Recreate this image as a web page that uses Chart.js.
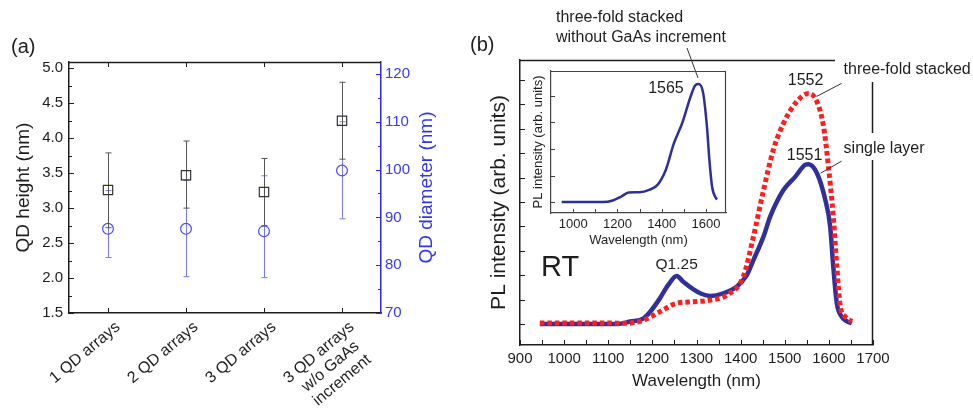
<!DOCTYPE html>
<html><head><meta charset="utf-8">
<script src="https://cdn.jsdelivr.net/npm/chart.js@4.4.1/dist/chart.umd.min.js"></script>
<style>
html,body{margin:0;padding:0;background:#fff;width:973px;height:408px;overflow:hidden;position:relative;}
canvas{position:absolute;}
#ca{left:0;top:0;}
#cb{left:460px;top:0;}
#ci{left:525px;top:66px;}
</style></head><body>
<canvas id="ca" width="460" height="408"></canvas>
<canvas id="cb" width="513" height="408"></canvas>
<canvas id="ci" width="210" height="185"></canvas>
<script>
// ---------- Panel (a) data ----------
const sampleLabels = ['1 QD arrays', '2 QD arrays', '3 QD arrays', ['3 QD arrays', 'w/o GaAs', 'increment']];
const qdHeight = [3.26, 3.47, 3.23, 4.25];
const qdHeightHigh = [3.79, 3.96, 3.71, 4.80];
const qdHeightLow = [2.72, 3.00, 2.75, 3.70];
const qdDiameter = [87.6, 87.6, 87.1, 99.8];
const qdDiameterHigh = [95.6, 97.7, 98.7, 110.0];
const qdDiameterLow = [81.6, 77.6, 77.4, 89.7];
const heightTicks = [1.5, 2.0, 2.5, 3.0, 3.5, 4.0, 4.5, 5.0];
const diameterTicks = [70, 80, 90, 100, 110, 120];

// ---------- Panel (b) data ----------
const singleWl  = [945, 1000, 1050, 1100, 1120, 1150, 1180, 1195, 1217, 1236, 1255, 1270, 1293, 1312, 1331, 1361, 1391, 1414, 1429, 1452, 1467, 1497, 1524, 1546, 1554, 1573, 1592, 1603, 1610, 1618, 1629, 1640, 1652];
const singleInt = [0, 0, 0, 0, 0, 0.1, 0.23, 0.5, 1.05, 1.6, 1.97, 1.73, 1.42, 1.23, 1.15, 1.26, 1.53, 2.0, 2.62, 3.59, 4.4, 5.49, 6.04, 6.52, 6.55, 6.18, 5.08, 3.99, 2.35, 0.85, 0.3, 0.12, 0.03];
const stackedWl  = [945, 1000, 1100, 1142, 1180, 1217, 1255, 1293, 1331, 1369, 1406, 1429, 1452, 1474, 1497, 1524, 1554, 1573, 1588, 1599, 1610, 1618, 1626, 1637, 1652];
const stackedInt = [0.04, 0.04, 0.04, 0.03, 0.16, 0.5, 0.85, 0.91, 0.98, 1.19, 1.94, 3.58, 5.49, 7.13, 8.22, 9.04, 9.45, 9.11, 8.09, 6.45, 4.4, 2.35, 0.71, 0.3, 0.1];
const insetWl  = [948, 1000, 1100, 1134, 1179, 1217, 1251, 1299, 1343, 1381, 1418, 1455, 1492, 1530, 1552, 1567, 1587, 1604, 1615, 1627, 1645, 1650];
const insetInt = [0, 0, 0, 0, 0.06, 0.21, 0.36, 0.37, 0.46, 0.65, 1.21, 2.22, 2.97, 3.97, 4.41, 4.45, 4.1, 2.84, 1.59, 0.59, 0.15, 0.1];
const wavelengthTicks = [900, 1000, 1100, 1200, 1300, 1400, 1500, 1600, 1700];
const intensityTicks = [0, 1, 2, 3, 4, 5, 6, 7, 8, 9, 10];
const insetWavelengthTicks = [1000, 1200, 1400, 1600];
const insetIntensityTicks = [0, 1, 2, 3, 4];
const peakLabels = ['1552', '1551', '1565'];

const FONT = '"Liberation Sans", Arial, Helvetica, sans-serif';
const INK = '#1e1e1e';
const BLUE_AX = '#2a2af0';

function tickMarks(ctx, chart, scale, values, len, side, color, width) {
  const ca = chart.chartArea;
  ctx.save();
  ctx.strokeStyle = color; ctx.lineWidth = width; ctx.beginPath();
  values.forEach(v => {
    const p = Math.round(scale.getPixelForValue(v)) + 0.5;
    if (side === 'bottom') { ctx.moveTo(p, ca.bottom); ctx.lineTo(p, ca.bottom - len); }
    else if (side === 'top') { ctx.moveTo(p, ca.top); ctx.lineTo(p, ca.top + len); }
    else if (side === 'left') { ctx.moveTo(ca.left, p); ctx.lineTo(ca.left + len, p); }
    else { ctx.moveTo(ca.right, p); ctx.lineTo(ca.right - len, p); }
  });
  ctx.stroke(); ctx.restore();
}
function mids(arr) { const m = []; for (let i = 0; i < arr.length - 1; i++) m.push((arr[i] + arr[i + 1]) / 2); return m; }
function line(ctx, x1, y1, x2, y2, color, w) {
  ctx.save(); ctx.strokeStyle = color; ctx.lineWidth = w; ctx.beginPath(); ctx.moveTo(x1, y1); ctx.lineTo(x2, y2); ctx.stroke(); ctx.restore();
}
function text(ctx, s, x, y, size, color, align, rot) {
  ctx.save(); ctx.font = size + 'px ' + FONT; ctx.fillStyle = color; ctx.textAlign = align || 'left'; ctx.textBaseline = 'middle';
  ctx.translate(x, y); if (rot) ctx.rotate(rot); ctx.fillText(s, 0, 0); ctx.restore();
}

// ---------- Panel (a) ----------
const errorBarPlugin = {
  id: 'errorBars',
  beforeDatasetsDraw(chart) {
    const ctx = chart.ctx, xs = chart.scales.x, y = chart.scales.y, y2 = chart.scales.y2;
    const draw = (lo, hi, sc, color) => {
      ctx.save(); ctx.strokeStyle = color; ctx.lineWidth = 1; ctx.beginPath();
      lo.forEach((l, i) => {
        const x = Math.round(xs.getPixelForValue(i)) + 0.5;
        const a = sc.getPixelForValue(hi[i]), b = sc.getPixelForValue(l);
        ctx.moveTo(x, a); ctx.lineTo(x, b);
        ctx.moveTo(x - 3, a); ctx.lineTo(x + 3, a);
        ctx.moveTo(x - 3, b); ctx.lineTo(x + 3, b);
      });
      ctx.stroke(); ctx.restore();
    };
    draw(qdDiameterLow, qdDiameterHigh, y2, '#7a7af0');
    draw(qdHeightLow, qdHeightHigh, y, '#555');
  },
  afterDraw(chart) {
    const ctx = chart.ctx, ca = chart.chartArea, xs = chart.scales.x;
    line(ctx, ca.left, ca.top + 0.5, ca.right, ca.top + 0.5, INK, 1.5);
    const cats = sampleLabels.map((_, i) => i);
    tickMarks(ctx, chart, xs, cats, 5, 'bottom', INK, 1);
    tickMarks(ctx, chart, xs, cats, 5, 'top', INK, 1);
    tickMarks(ctx, chart, chart.scales.y, heightTicks, 5, 'left', INK, 1);
    tickMarks(ctx, chart, chart.scales.y, mids(heightTicks), 3, 'left', INK, 1);
    tickMarks(ctx, chart, chart.scales.y2, diameterTicks, 5, 'right', BLUE_AX, 1);
    tickMarks(ctx, chart, chart.scales.y2, mids(diameterTicks), 3, 'right', BLUE_AX, 1);
    // rotated category labels, lines centred on each other
    const th = 40 * Math.PI / 180, lh = 18;
    ctx.save();
    ctx.font = '16px ' + FONT; ctx.fillStyle = INK; ctx.textBaseline = 'middle'; ctx.textAlign = 'center';
    sampleLabels.forEach((lab, i) => {
      const lines = Array.isArray(lab) ? lab : [lab];
      const w1 = ctx.measureText(lines[0]).width;
      ctx.save();
      ctx.translate(xs.getPixelForValue(i) + 10, ca.bottom + 12);
      ctx.rotate(-th);
      lines.forEach((s, k) => ctx.fillText(s, -w1 / 2, k * lh));
      ctx.restore();
    });
    ctx.restore();
    text(ctx, '(a)', 11, 47, 20, INK, 'left');
    text(ctx, 'QD diameter (nm)', ca.right + 46, (ca.top + ca.bottom) / 2, 19, '#3434e8', 'center', -Math.PI / 2);
  }
};

new Chart(document.getElementById('ca'), {
  type: 'line',
  data: {
    labels: sampleLabels,
    datasets: [
      { label: 'QD height', data: qdHeight, yAxisID: 'y', showLine: false, pointStyle: 'rect', pointRadius: 6.6,
        borderColor: '#333', backgroundColor: 'rgba(0,0,0,0)', pointBorderWidth: 1.2 },
      { label: 'QD diameter', data: qdDiameter, yAxisID: 'y2', showLine: false, pointStyle: 'circle', pointRadius: 5.4,
        borderColor: '#4a4af5', backgroundColor: 'rgba(0,0,0,0)', pointBorderWidth: 1.2 }
    ]
  },
  options: {
    responsive: false, animation: false, devicePixelRatio: 1, events: [],
    layout: { padding: { top: 62, left: 0, right: 0, bottom: 0 } },
    plugins: { legend: { display: false }, tooltip: { enabled: false } },
    scales: {
      x: {
        type: 'category', offset: true,
        grid: { display: false, drawTicks: false },
        border: { display: true, color: INK, width: 1.5 },
        ticks: { display: false },
        afterFit: s => { s.height = 95; }
      },
      y: {
        position: 'left', min: 1.5, max: 5.09,
        grid: { display: false, drawTicks: false },
        border: { display: true, color: INK, width: 1.5 },
        afterBuildTicks: s => { s.ticks = heightTicks.map(v => ({ value: v })); },
        ticks: { font: { family: FONT, size: 15 }, color: INK, padding: 6, callback: v => Number(v).toFixed(1) },
        title: { display: true, text: 'QD height (nm)', font: { family: FONT, size: 19 }, color: INK, padding: { top: 12 } },
        afterFit: s => { s.width = 69; }
      },
      y2: {
        position: 'right', min: 70, max: 122.5,
        grid: { display: false, drawTicks: false },
        border: { display: true, color: BLUE_AX, width: 1.5 },
        afterBuildTicks: s => { s.ticks = diameterTicks.map(v => ({ value: v })); },
        ticks: { font: { family: FONT, size: 15 }, color: '#3a3aee', padding: 4 },
        afterFit: s => { s.width = 79; }
      }
    }
  },
  plugins: [errorBarPlugin]
});

// ---------- Panel (b) main ----------
const peakIndex = arr => arr.indexOf(Math.max(...arr));
const mainDecor = {
  id: 'mainDecor',
  afterDraw(chart) {
    const ctx = chart.ctx, ca = chart.chartArea, xs = chart.scales.x, ys = chart.scales.y;
    // partial frame
    line(ctx, ca.left, ca.top + 0.5, 375, ca.top + 0.5, INK, 1.5);
    line(ctx, ca.right - 0.5, 82, ca.right - 0.5, 133, INK, 1.5);
    line(ctx, ca.right - 0.5, 160, ca.right - 0.5, ca.bottom, INK, 1.5);
    // inward ticks
    tickMarks(ctx, chart, xs, wavelengthTicks, 5, 'bottom', INK, 1);
    tickMarks(ctx, chart, xs, mids(wavelengthTicks), 5, 'bottom', INK, 1);
    tickMarks(ctx, chart, ys, intensityTicks, 5, 'left', INK, 1);
    // labels
    text(ctx, '(b)', 10, 45, 20, INK, 'left');
    text(ctx, 'three-fold stacked', 96, 18, 16, INK, 'left');
    text(ctx, 'without GaAs increment', 96, 38, 16, INK, 'left');
    line(ctx, 227, 48, 238, 78, '#333', 1);
    const ps = peakIndex(stackedInt), px1 = xs.getPixelForValue(stackedWl[ps]), py1 = ys.getPixelForValue(stackedInt[ps]);
    text(ctx, peakLabels[0], px1 - 3, py1 - 13, 16, INK, 'center');
    line(ctx, px1 + 33, py1 - 10, px1 + 8, py1 + 3, '#333', 1);
    text(ctx, 'three-fold stacked', px1 + 35, py1 - 24, 16, INK, 'left');
    const pl = peakIndex(singleInt), px2 = xs.getPixelForValue(singleWl[pl]), py2 = ys.getPixelForValue(singleInt[pl]);
    text(ctx, peakLabels[1], px2 - 4, py2 - 9, 16, INK, 'center');
    line(ctx, px2 + 33, py2 - 3, px2 + 12, py2 + 9, '#333', 1);
    text(ctx, 'single layer', px2 + 35, py2 - 16, 16, INK, 'left');
    // Q1.25 local peak
    let qi = 0; singleWl.forEach((w, i) => { if (w < 1350 && singleInt[i] > singleInt[qi]) qi = i; });
    text(ctx, 'Q1.25', xs.getPixelForValue(singleWl[qi]), ys.getPixelForValue(singleInt[qi]) - 11, 15.5, INK, 'center');
    text(ctx, 'RT', 81, 268, 29, INK, 'left');
  }
};

new Chart(document.getElementById('cb'), {
  type: 'line',
  data: {
    datasets: [
      { label: 'three-fold stacked', data: stackedWl.map((w, i) => ({ x: w, y: stackedInt[i] })),
        borderColor: '#ff1e1e', borderWidth: 5, borderDash: [4.5, 3], borderCapStyle: 'butt', pointRadius: 0,
        cubicInterpolationMode: 'monotone', fill: false, order: 0 },
      { label: 'single layer', data: singleWl.map((w, i) => ({ x: w, y: singleInt[i] })),
        borderColor: '#30309c', borderWidth: 4.5, pointRadius: 0, cubicInterpolationMode: 'monotone', fill: false, order: 1 }
    ]
  },
  options: {
    responsive: false, animation: false, devicePixelRatio: 1, events: [],
    layout: { padding: { top: 60, left: 0, right: 100, bottom: 0 } },
    plugins: { legend: { display: false }, tooltip: { enabled: false } },
    scales: {
      x: {
        type: 'linear', min: 900, max: 1700,
        grid: { display: false, drawTicks: false },
        border: { display: true, color: INK, width: 1.5 },
        afterBuildTicks: s => { s.ticks = wavelengthTicks.map(v => ({ value: v })); },
        ticks: { font: { family: FONT, size: 15 }, color: INK, padding: 5, callback: v => String(v) },
        title: { display: true, text: 'Wavelength (nm)', font: { family: FONT, size: 17 }, color: INK, padding: { bottom: 16 } },
        afterFit: s => { s.height = 63; }
      },
      y: {
        type: 'linear', min: -0.861, max: 10.82,
        grid: { display: false, drawTicks: false },
        border: { display: true, color: INK, width: 1.5 },
        ticks: { display: false },
        title: { display: true, text: 'PL intensity (arb. units)', font: { family: FONT, size: 21 }, color: INK, padding: { top: 27 } },
        afterFit: s => { s.width = 60; }
      }
    }
  },
  plugins: [mainDecor]
});

// ---------- Panel (b) inset ----------
const insetDecor = {
  id: 'insetDecor',
  afterDraw(chart) {
    const ctx = chart.ctx, ca = chart.chartArea, xs = chart.scales.x, ys = chart.scales.y;
    line(ctx, ca.left, ca.top + 0.5, ca.right, ca.top + 0.5, '#444', 1.2);
    line(ctx, ca.right - 0.5, ca.top, ca.right - 0.5, ca.bottom, '#444', 1.2);
    tickMarks(ctx, chart, xs, [1000, 1100, 1200, 1300, 1400, 1500, 1600], 4, 'bottom', '#444', 1);
    tickMarks(ctx, chart, ys, insetIntensityTicks, 4, 'left', '#444', 1);
    const pi = peakIndex(insetInt), px = xs.getPixelForValue(insetWl[pi]), py = ys.getPixelForValue(insetInt[pi]);
    text(ctx, peakLabels[2], px - 15, py + 5, 16, INK, 'right');
  }
};

new Chart(document.getElementById('ci'), {
  type: 'line',
  data: {
    datasets: [
      { label: 'three-fold stacked without GaAs increment', data: insetWl.map((w, i) => ({ x: w, y: insetInt[i] })),
        borderColor: '#2e2e9e', borderWidth: 2.5, pointRadius: 0, cubicInterpolationMode: 'monotone', fill: false }
    ]
  },
  options: {
    responsive: false, animation: false, devicePixelRatio: 1, events: [],
    layout: { padding: { top: 5, left: 0, right: 9, bottom: 0 } },
    plugins: { legend: { display: false }, tooltip: { enabled: false } },
    scales: {
      x: {
        type: 'linear', min: 900, max: 1690,
        grid: { display: false, drawTicks: false },
        border: { display: true, color: '#444', width: 1.2 },
        afterBuildTicks: s => { s.ticks = insetWavelengthTicks.map(v => ({ value: v })); },
        ticks: { font: { family: FONT, size: 13 }, color: INK, padding: 4, callback: v => String(v) },
        title: { display: true, text: 'Wavelength (nm)', font: { family: FONT, size: 13 }, color: INK, padding: { bottom: 3 } },
        afterFit: s => { s.height = 38; }
      },
      y: {
        type: 'linear', min: -0.41, max: 4.94,
        grid: { display: false, drawTicks: false },
        border: { display: true, color: '#444', width: 1.2 },
        ticks: { display: false },
        title: { display: true, text: 'PL intensity (arb. units)', font: { family: FONT, size: 13 }, color: INK, padding: { top: 6 } },
        afterFit: s => { s.width = 26; }
      }
    }
  },
  plugins: [insetDecor]
});
</script>
</body></html>
